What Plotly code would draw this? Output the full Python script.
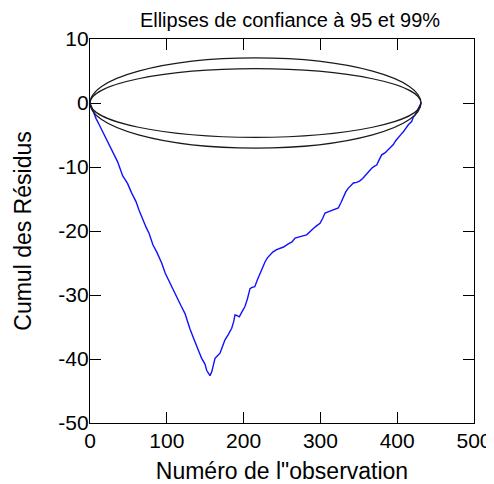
import plotly.graph_objects as go

# Cumulative residuals
obs_x = [0, 3, 7.8, 12, 16.5, 21, 25.1, 28.2, 33, 36, 39, 42.6, 46, 49, 54, 59.9, 64, 68.6,
         73, 77, 82, 87, 93.3, 98, 104.2, 109, 115, 119, 123.7, 127, 130.2, 135, 138.9, 142,
         145.4, 149.7, 152, 154.5, 156.25, 158.5, 160.5, 162.8, 166, 169.3, 172, 175.8, 180,
         184.5, 187, 188.8, 191, 194.4, 198, 201.8, 205, 208.3, 211, 214.5, 218, 221.4, 225,
         228, 231, 234.4, 238, 243, 247.4, 252, 258.2, 263, 267, 271.3, 276, 282.1, 286,
         290.8, 295, 299.5, 303, 306, 310, 314.7, 319, 323.3, 327, 329.9, 333, 336.4, 340,
         343, 347, 351, 355, 360.3, 364, 366.8, 370, 373.3, 376, 379.8, 384, 388.5, 392, 395,
         398, 401.5, 405, 408, 411, 414.5, 418.8, 421, 423.2, 425.5, 427.5, 429.7, 431]
cum_resid = [0, -1.0, -2.4, -3.4, -4.5, -5.6, -6.6, -7.3, -8.4, -9.2, -10.2, -11.4, -12.0,
             -12.6, -14.0, -15.4, -16.8, -18.2, -19.4, -20.4, -22.2, -23.3, -25.0, -26.6,
             -28.2, -29.2, -30.8, -31.8, -32.9, -34.2, -35.3, -36.8, -38.1, -38.9, -39.9,
             -40.8, -41.8, -42.4, -42.6, -42.0, -40.8, -39.9, -39.5, -39.1, -38.2, -37.0,
             -36.2, -35.2, -34.2, -33.1, -33.2, -33.4, -32.6, -31.8, -30.6, -29.0, -28.8,
             -28.7, -27.6, -26.6, -25.6, -24.8, -24.2, -23.7, -23.3, -22.9, -22.7, -22.5,
             -22.0, -21.7, -21.1, -20.9, -20.8, -20.6, -20.1, -19.6, -19.2, -18.8, -18.0,
             -17.2, -17.0, -16.8, -16.7, -16.4, -15.5, -14.6, -13.9, -13.3, -12.8, -12.5,
             -12.4, -12.2, -11.8, -11.0, -10.5, -10.2, -9.9, -9.7, -9.0, -8.1, -7.8, -7.3,
             -6.9, -6.5, -5.9, -5.3, -4.9, -4.5, -3.9, -3.4, -2.9, -2.2, -1.9, -1.3, -0.9,
             -0.3, 0]

# Confidence ellipses: levels and half-heights, spanning observations 0..n_obs
ellipse_levels = ["95%", "99%"]
ellipse_half_heights = [5.36, 7.05]
n_obs = 431

x_ticks = [0, 100, 200, 300, 400, 500]
x_tick_labels = ["0", "100", "200", "300", "400", "500"]
y_ticks = [-50, -40, -30, -20, -10, 0, 10]
y_tick_labels = ["-50", "-40", "-30", "-20", "-10", "0", "10"]

FONT = "Arial, 'Liberation Sans', sans-serif"

fig = go.Figure()
fig.add_trace(go.Scatter(x=obs_x, y=cum_resid, mode="lines",
                         line=dict(color="#1010ff", width=1.4), showlegend=False))

for lvl, h in zip(ellipse_levels, ellipse_half_heights):
    fig.add_shape(type="circle", xref="x", yref="y", x0=0, x1=n_obs, y0=-h, y1=h,
                  line=dict(color="#1a1a1a", width=1.2), layer="above")

axis_common = dict(showline=True, linecolor="black", linewidth=1.3, mirror="ticks",
                   ticks="inside", ticklen=11, tickwidth=1.3, tickcolor="black",
                   showgrid=False, zeroline=False, automargin=False,
                   tickfont=dict(family=FONT, size=21, color="black"))

# The page body adds an 8px offset, so the figure is sized to the remaining area.
W, H = 486, 476

fig.update_layout(
    width=W, height=H,
    margin=dict(l=82, r=20, t=31, b=61),
    paper_bgcolor="white", plot_bgcolor="white",
    title=dict(text="Ellipses de confiance à 95 et 99%", xref="container", yref="container",
               x=282 / W, y=1 - 12 / H, xanchor="center", yanchor="middle",
               font=dict(family=FONT, size=20, color="black")),
    xaxis=dict(range=[0, 500], tickvals=x_ticks, ticktext=x_tick_labels,
               ticklabelstandoff=-1, **axis_common,
               title=dict(text="Numéro de l\"observation", standoff=17,
                          font=dict(family=FONT, size=23, color="black"))),
    yaxis=dict(range=[-50, 10], tickvals=y_ticks, ticktext=y_tick_labels,
               ticklabelstandoff=-4, **axis_common,
               title=dict(text="Cumul des Résidus", standoff=20,
                          font=dict(family=FONT, size=23, color="black"))),
)

fig.write_html("out.html")
